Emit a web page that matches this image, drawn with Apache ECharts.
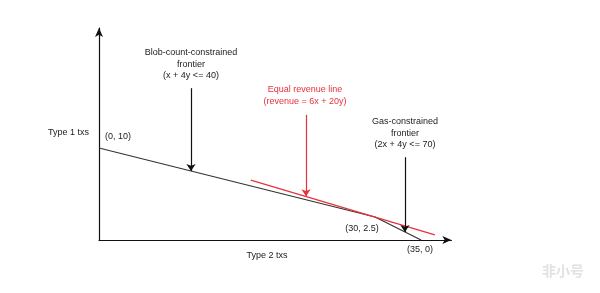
<!DOCTYPE html>
<html>
<head>
<meta charset="utf-8">
<script src="https://cdn.jsdelivr.net/npm/echarts@6/dist/echarts.min.js"></script>
<style>html,body{margin:0;padding:0;background:#fff;}#c{width:600px;height:293px;}</style>
</head>
<body>
<div id="c"></div>
<script>
// Frontier (kinked) line: blob-count then gas constraint
var frontierPoints = [[0, 10], [30, 2.5], [35, 0]];
// Equal revenue line: 6x + 20y = 230
var revenueX = [16.5, 36.5];
var revenueY = [6.5, 0.55];
// Annotation arrows: [x, yStart, yEnd]
var blobArrow = [10, 16.5, 7.5];
var revenueArrow = [22.5, 13.6, 4.75];
var gasArrow = [33.25, 9.0, 0.875];
// Point labels
var pointLabels = ['(0, 10)', '(30, 2.5)', '(35, 0)'];
var axisNames = ['Type 2 txs', 'Type 1 txs'];

var FONT = 'Liberation Sans, Arial, Helvetica, sans-serif';
var TXT = '#222';
var RED = '#e6323c';

var chart = echarts.init(document.getElementById('c'), null, {renderer: 'canvas'});

function arrowItem(a, color) {
  return [
    {coord: [a[0], a[1]], lineStyle: {color: color, width: 1.2, type: 'solid'}},
    {coord: [a[0], a[2]]}
  ];
}

function txt(text, cx, cy, color, align) {
  return {
    type: 'text',
    x: cx, y: cy,
    style: {
      text: text, fill: color || TXT, font: '9px ' + FONT,
      align: align || 'center', verticalAlign: 'middle', lineHeight: 11.5
    },
    silent: true
  };
}

var option = {
  animation: false,
  backgroundColor: '#fff',
  grid: {left: 99, top: 28, width: 352.4, height: 212, containLabel: false},
  xAxis: {
    type: 'value', min: 0, max: 38.3,
    axisLine: {show: true, lineStyle: {color: '#111', width: 1.2}, symbol: ['none', 'arrow'], symbolSize: [6, 9], symbolOffset: [0, 0]},
    axisTick: {show: false}, axisLabel: {show: false}, splitLine: {show: false}
  },
  yAxis: {
    type: 'value', min: 0, max: 23.04,
    axisLine: {show: true, lineStyle: {color: '#111', width: 1.2}, symbol: ['none', 'arrow'], symbolSize: [6, 9], symbolOffset: [0, 0]},
    axisTick: {show: false}, axisLabel: {show: false}, splitLine: {show: false}
  },
  series: [
    {
      type: 'line', data: frontierPoints, symbol: 'none',
      lineStyle: {color: '#333', width: 1.2}, silent: true,
      markLine: {
        silent: true, symbol: ['none', 'arrow'], symbolSize: 7,
        label: {show: false},
        data: [arrowItem(blobArrow, '#111'), arrowItem(gasArrow, '#111'), arrowItem(revenueArrow, RED)]
      }
    },
    {
      type: 'line', data: revenueX.map(function (x, i) { return [x, revenueY[i]]; }), symbol: 'none',
      lineStyle: {color: RED, width: 1.2}, silent: true
    }
  ],
  graphic: [
    txt('Blob-count-constrained\nfrontier\n(x + 4y <= 40)', 191, 64.5),
    txt('Equal revenue line\n(revenue = 6x + 20y)', 305, 95.5, RED),
    txt('Gas-constrained\nfrontier\n(2x + 4y <= 70)', 405, 133.5),
    txt(axisNames[1], 48, 133, TXT, 'left'),
    txt(axisNames[0], 267, 256),
    txt(pointLabels[0], 105, 137, TXT, 'left'),
    txt(pointLabels[1], 362, 229),
    txt(pointLabels[2], 420, 250),
    {type: 'text', x: 563, y: 271, style: {text: '非小号', fill: '#e2e2e2', font: 'bold 14px "Noto Sans CJK SC", sans-serif', align: 'center', verticalAlign: 'middle'}, silent: true}
  ]
};
chart.setOption(option);
</script>
</body>
</html>
